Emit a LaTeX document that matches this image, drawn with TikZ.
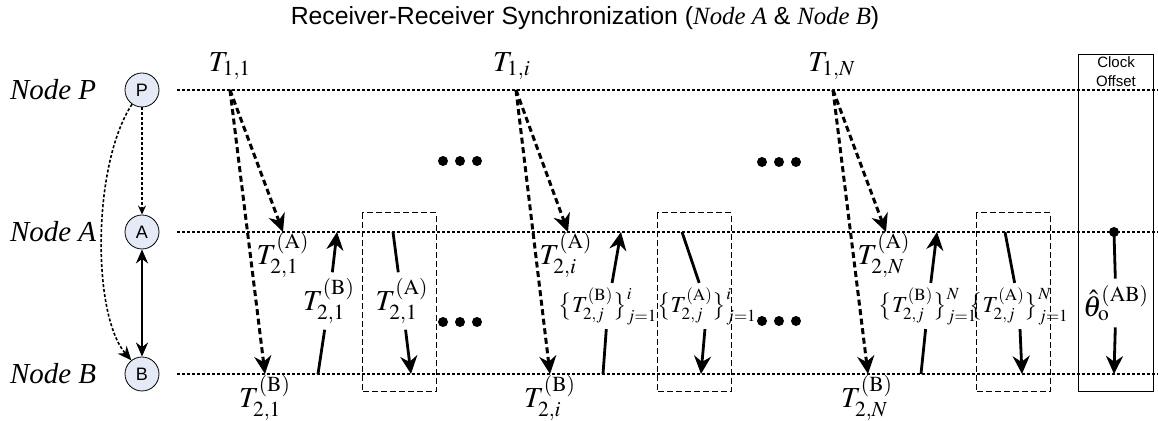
\documentclass[tikz,border=0pt]{standalone}
\usepackage{mathptmx}
\usepackage{fontspec}
\setmainfont{Liberation Serif}
\setsansfont{Liberation Sans}
\usetikzlibrary{arrows.meta,positioning}
\definecolor{nodefill}{HTML}{E4EBF7}

\begin{document}
\begin{tikzpicture}[x=0.5pt, y=-0.5pt, >=Stealth,
  circ/.style={circle, draw, thin, fill=nodefill, minimum size=17pt, inner sep=0pt,
    font=\sffamily\fontsize{9}{10}\selectfont},
  side/.style={font=\itshape\fontsize{14.5}{16}\selectfont, inner sep=0pt},
  tl/.style={font=\fontsize{14.5}{16}\selectfont, inner sep=1pt},
  rl/.style={font=\fontsize{14.5}{16}\selectfont, inner sep=3pt},
  sl/.style={font=\fontsize{11.5}{13}\selectfont, inner sep=2pt},
  tline/.style={line width=0.8pt, dash pattern=on 1.5pt off 1pt},
  sig/.style={-{Stealth[length=9pt,width=8.5pt]}, line width=1.5pt,
    dash pattern=on 3pt off 1.8pt},
  rep/.style={-{Stealth[length=9pt,width=8.5pt]}, line width=1.4pt},
  win/.style={draw, line width=0.5pt, dash pattern=on 3pt off 1.5pt},
  dot/.style={circle, fill, inner sep=0pt, minimum size=5pt}]
\useasboundingbox (0,0) rectangle (1158,421);
\node[font=\sffamily\fontsize{12.4}{14}\selectfont] (title) at (585,18)
  {Receiver-Receiver Synchronization ({\rmfamily\itshape Node A} \& {\rmfamily\itshape Node B})};
% the three nodes
\node[circ] (P) at (142,90) {P};
\node[circ] (A) at (142,232) {A};
\node[circ] (B) at (142,374) {B};
\node[side, left=14pt of P] (nP) {Node P};
\node[side, left=14pt of A] (nA) {Node A};
\node[side, left=14pt of B] (nB) {Node B};
\draw[tline, -{Stealth[length=4.5pt,width=4pt]}] (P) -- (A);
\draw[tline, -{Stealth[length=7pt,width=6pt]}] (P.235) .. controls (92,165) and (92,315) .. (B.128);
\draw[line width=1.4pt, {Stealth[length=7pt,width=6pt]}-{Stealth[length=7pt,width=6pt]}] (A) -- (B);
% time lines
\coordinate (pl) at (177,90);  \coordinate (pr) at (1158,90);
\coordinate (al) at (177,232); \coordinate (ar) at (1158,232);
\coordinate (bl) at (177,374); \coordinate (br) at (1158,374);
\draw[tline] (pl) -- (pr);
\draw[tline] (al) -- (ar);
\draw[tline] (bl) -- (br);
% collection windows
\draw[win] (362,213) rectangle (436,392);
\draw[win] (657,213) rectangle (731,392);
\draw[win] (976,213) rectangle (1050,392);
\draw[line width=0.5pt] (1078,55) rectangle (1153,392);
\node[font=\sffamily\fontsize{7.5}{9.5}\selectfont, align=center] (clk) at (1116,72) {Clock\\Offset};
% round 1
\coordinate (s1) at (230,90);
\coordinate (a1) at (283,232);
\coordinate (b1) at (265,374);
\node[tl] (t11) at (230,66) {$T_{1,1}$};
\node[tl] (ta1) at (283,255) {$T_{2,1}^{(\mathrm{A})}$};
\node[tl] (tb1) at (265,398) {$T_{2,1}^{(\mathrm{B})}$};
\draw[sig] (s1) -- (a1);
\draw[sig] (s1) -- (b1);
\coordinate (u1b) at (318,374); \coordinate (u1t) at (337,232);
\node[rl] (lu1) at (329,301) {$T_{2,1}^{(\mathrm{B})}$};
\draw[line width=1.4pt] (u1b) -- (lu1);
\draw[rep] (lu1) -- (u1t);
\coordinate (d1t) at (393,232); \coordinate (d1b) at (411,374);
\node[rl] (ld1) at (402,301) {$T_{2,1}^{(\mathrm{A})}$};
\draw[line width=1.4pt] (d1t) -- (ld1);
\draw[rep] (ld1) -- (d1b);
% round i
\coordinate (s2) at (516,90);
\coordinate (a2) at (568,232);
\coordinate (b2) at (550,374);
\node[tl] (t1i) at (512,66) {$T_{1,i}$};
\node[tl] (ta2) at (566,255) {$T_{2,i}^{(\mathrm{A})}$};
\node[tl] (tb2) at (550,398) {$T_{2,i}^{(\mathrm{B})}$};
\draw[sig] (s2) -- (a2);
\draw[sig] (s2) -- (b2);
\coordinate (u2b) at (603,374); \coordinate (u2t) at (621,232);
\node[sl] (lu2) at (608,306) {$\big\{T_{2,j}^{(\mathrm{B})}\big\}_{j=1}^{i}$};
\draw[line width=1.4pt] (u2b) -- (lu2);
\draw[rep] (lu2) -- (u2t);
\coordinate (d2t) at (682,232); \coordinate (d2b) at (701,374);
\node[sl] (ld2) at (707,306) {$\big\{T_{2,j}^{(\mathrm{A})}\big\}_{j=1}^{i}$};
\draw[line width=1.4pt] (d2t) -- (ld2);
\draw[rep] (ld2) -- (d2b);
% round N
\coordinate (s3) at (833,90);
\coordinate (a3) at (886,232);
\coordinate (b3) at (868,374);
\node[tl] (t1N) at (832,66) {$T_{1,N}$};
\node[tl] (ta3) at (884,255) {$T_{2,N}^{(\mathrm{A})}$};
\node[tl] (tb3) at (867,398) {$T_{2,N}^{(\mathrm{B})}$};
\draw[sig] (s3) -- (a3);
\draw[sig] (s3) -- (b3);
\coordinate (u3b) at (921,374); \coordinate (u3t) at (937,232);
\node[sl] (lu3) at (928,306) {$\big\{T_{2,j}^{(\mathrm{B})}\big\}_{j=1}^{N}$};
\draw[line width=1.4pt] (u3b) -- (lu3);
\draw[rep] (lu3) -- (u3t);
\coordinate (d3t) at (1005,232); \coordinate (d3b) at (1022,374);
\node[sl] (ld3) at (1019,306) {$\big\{T_{2,j}^{(\mathrm{A})}\big\}_{j=1}^{N}$};
\draw[line width=1.4pt] (d3t) -- (ld3);
\draw[rep] (ld3) -- (d3b);
% the estimate
\node[dot] (c1) at (1114,232) {};
\coordinate (c2) at (1114,374);
\node[rl] (th) at (1116,303) {$\hat{\theta}_{\mathrm{o}}^{(\mathrm{AB})}$};
\draw[line width=1.4pt] (c1.center) -- (th);
\draw[rep] (th) -- (c2);
% gaps between rounds
\node[dot] (g1a) at (443,161) {}; \node[dot, right=8.5pt of g1a.center, anchor=center] (g1b) {};
\node[dot, right=8.5pt of g1b.center, anchor=center] (g1c) {};
\node[dot] (g2a) at (443,322) {}; \node[dot, right=8.5pt of g2a.center, anchor=center] (g2b) {};
\node[dot, right=8.5pt of g2b.center, anchor=center] (g2c) {};
\node[dot] (g3a) at (762,162) {}; \node[dot, right=8.5pt of g3a.center, anchor=center] (g3b) {};
\node[dot, right=8.5pt of g3b.center, anchor=center] (g3c) {};
\node[dot] (g4a) at (762,321) {}; \node[dot, right=8.5pt of g4a.center, anchor=center] (g4b) {};
\node[dot, right=8.5pt of g4b.center, anchor=center] (g4c) {};
\end{tikzpicture}
\end{document}
